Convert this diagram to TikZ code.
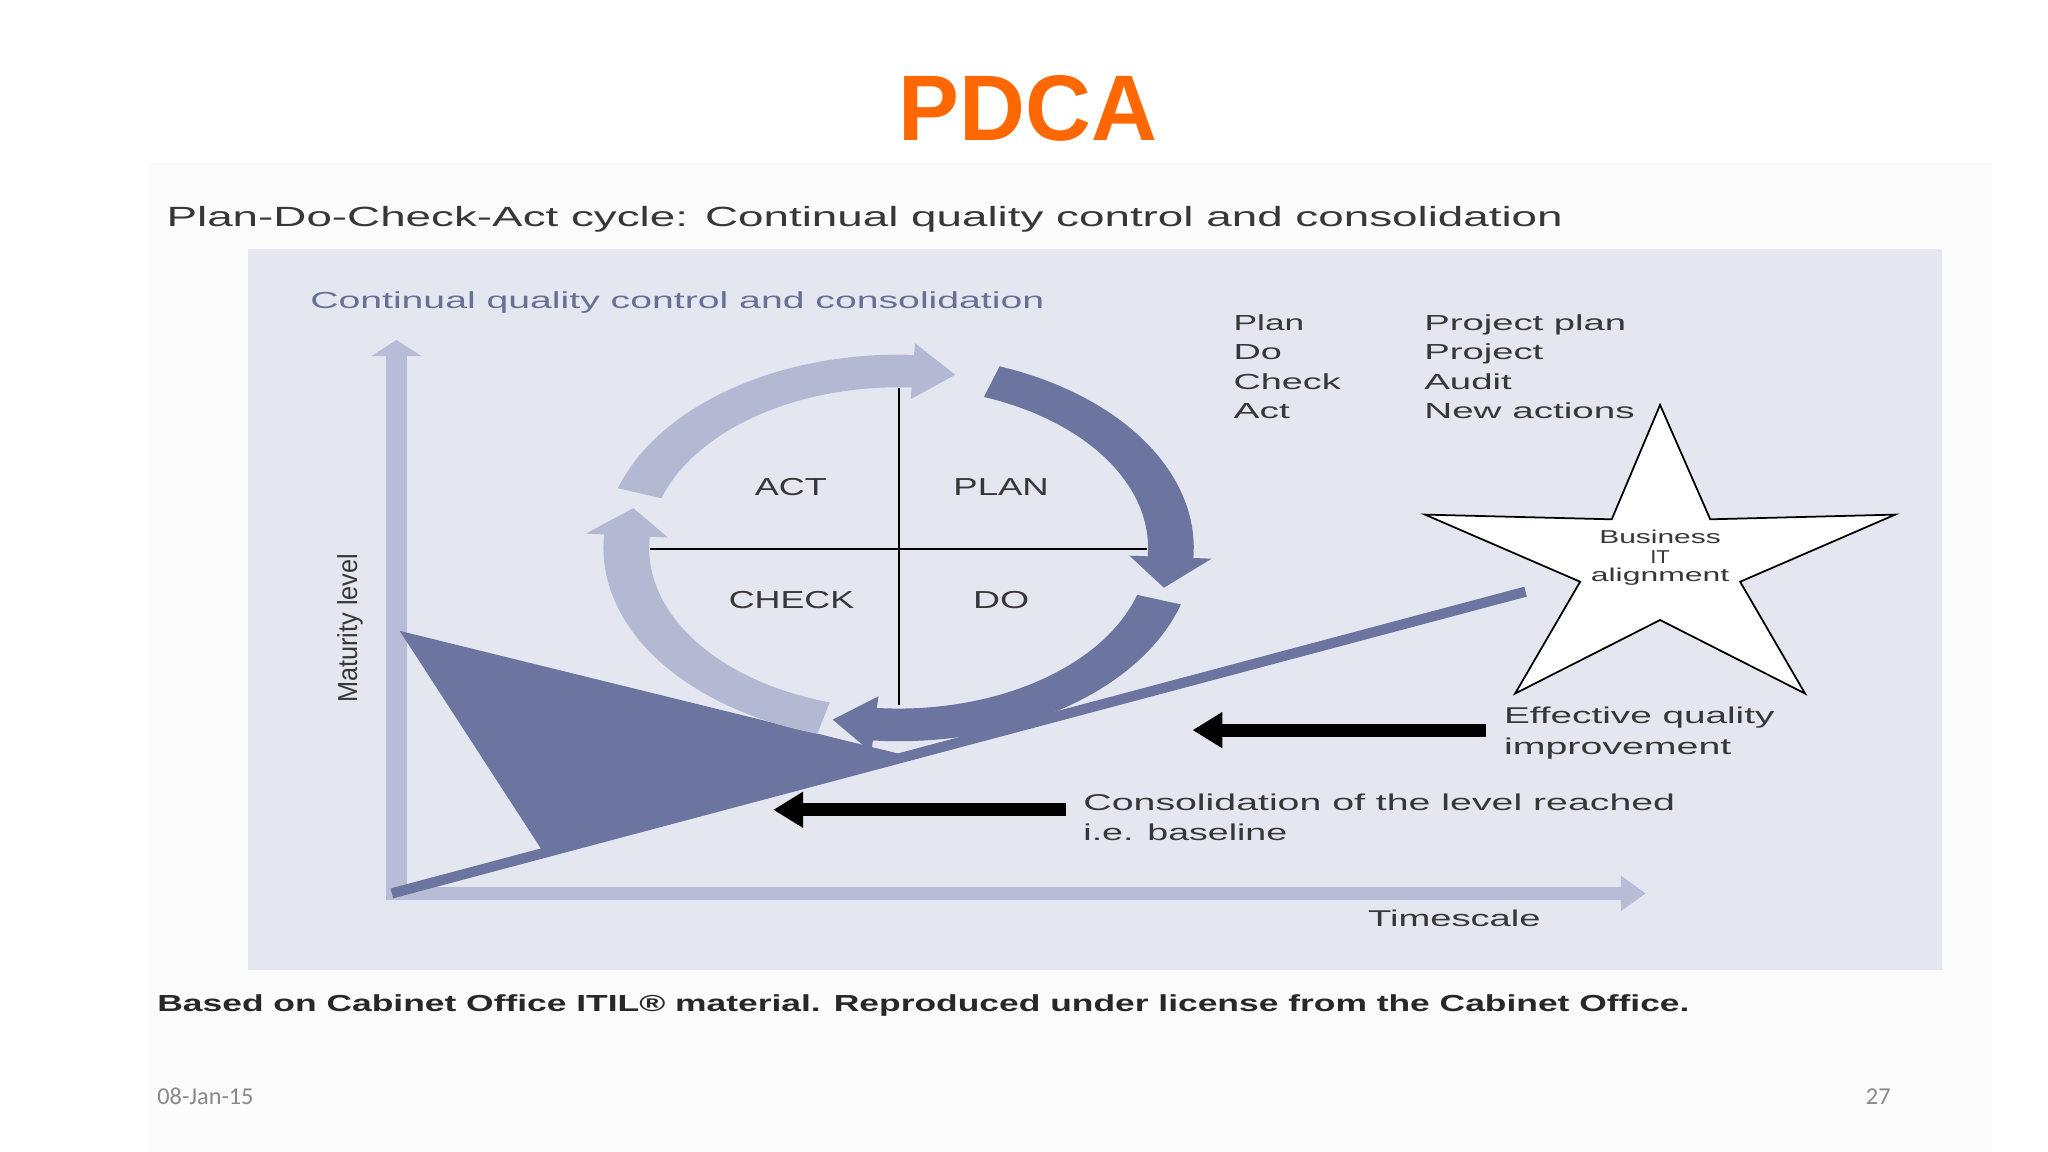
\documentclass[tikz,border=0pt]{standalone}
\usepackage{fontspec}
\usepackage{graphicx}
\setmainfont{Liberation Sans}
\newfontfamily\calib{Carlito}
\usetikzlibrary{arrows.meta}
\newdimen\pu \pu=0.013061cm
\newcommand\tx[3]{\resizebox{#1\pu}{\height}{\fontsize{#2pt}{#2pt}\selectfont #3}}
\definecolor{panel}{RGB}{229,231,240}
\definecolor{slidebg}{RGB}{251,251,252}
\definecolor{lightarr}{RGB}{180,185,211}
\definecolor{axiscol}{RGB}{184,188,214}
\definecolor{darkarr}{RGB}{108,117,160}
\definecolor{headtxt}{RGB}{105,112,150}
\definecolor{txt}{RGB}{55,55,55}
\definecolor{orng}{RGB}{255,104,0}
\definecolor{datecol}{RGB}{137,137,137}
% cycle arrow: colour, tail angle, head-base angle, tip angle
\newcommand\cyc[4]{%
 \fill[#1] plot[domain=#2:#3,samples=40] ({688+226*cos(\x)},{419.5-148*sin(\x)})
   -- ({688+240*cos(#3)},{419.5-157*sin(#3)})
   -- ({688+208.5*cos(#4)},{419.5-135.5*sin(#4)})
   -- ({688+177*cos(#3)},{419.5-114*sin(#3)})
   -- plot[domain=#3:#2,samples=40] ({688+191*cos(\x)},{419.5-123*sin(\x)})
   -- cycle;}
\tikzset{
  lbl/.style={anchor=base west, inner sep=0, text=txt},
  clbl/.style={anchor=base, inner sep=0, text=txt},
  blackarrow/.style={line width=3.7pt, black, -{Triangle[length=8.5pt,width=9.7pt]}},
  crossline/.style={black, line width=0.6pt},
}
\begin{document}
\begin{tikzpicture}[x=0.013061cm, y=-0.013061cm]
\useasboundingbox (0,0) rectangle (1568,882);
\fill[white] (0,0) rectangle (1568,882);
\fill[slidebg] (113,125) rectangle (1525,882);

% title and caption
\node[anchor=base, inner sep=0, text=orng] (title) at (786.8,107.2) {\bfseries\tx{198}{26.5}{PDCA}};
\node[lbl] (sub) at (127,173.6) {\tx{1069}{7.9}{Plan-Do-Check-Act cycle: Continual quality control and consolidation}};

% panel
\fill[panel] (190,191) rectangle (1487,743);
\node[anchor=base west, inner sep=0, text=headtxt] (head) at (237,236) {\tx{562}{6.6}{Continual quality control and consolidation}};

% axes
\coordinate (ybot) at (303.5,689);
\coordinate (ytop) at (303.5,260.3);
\coordinate (xbeg) at (295.5,684);
\coordinate (xend) at (1260,684);
\draw[axiscol, line width=5.95pt, -{Triangle[length=4.6pt,width=14.1pt]}] (ybot) -- (ytop);
\draw[axiscol, line width=3.7pt, -{Triangle[length=7.1pt,width=9.7pt]}] (xbeg) -- (xend);

% baseline and triangle
\coordinate (lbeg) at (300,684);
\coordinate (lend) at (1168,453);
\draw[darkarr, line width=2.9pt] (lbeg) -- (lend);
\fill[darkarr] (306,483) -- (415,651) -- (692,578) -- cycle;

% cross
\draw[crossline] (688,297) -- (688,540);
\draw[crossline] (498,420) -- (878,420);

% cycle arrows
\cyc{lightarr}{162}{87}{78}
\cyc{lightarr}{254}{176}{167}
\cyc{darkarr}{70}{-3}{-13}
\cyc{darkarr}{-17}{-95}{-104}

% quadrant labels
\node[clbl] (act) at (605.5,379) {\tx{55}{7}{ACT}};
\node[clbl] (plan) at (766.5,379) {\tx{73}{7}{PLAN}};
\node[clbl] (check) at (606,466) {\tx{96}{7}{CHECK}};
\node[clbl] (do) at (766.5,466) {\tx{43}{7}{DO}};

% list
\node[lbl] (l1) at (944,253) {\tx{54}{6.2}{Plan}};
\node[lbl] (l2) at (944,275.5) {\tx{37}{6.2}{Do}};
\node[lbl] (l3) at (944,298) {\tx{82}{6.2}{Check}};
\node[lbl] (l4) at (944,320.5) {\tx{43}{6.2}{Act}};
\node[lbl] (r1) at (1090,253) {\tx{154.5}{6.2}{Project plan}};
\node[lbl] (r2) at (1090,275.5) {\tx{91}{6.2}{Project}};
\node[lbl] (r3) at (1090,298) {\tx{67}{6.2}{Audit}};
\node[lbl] (r4) at (1090,320.5) {\tx{161}{6.2}{New actions}};

% star
\filldraw[fill=white, draw=black, line width=0.5pt, line join=miter]
  (1271,310) -- (1309.4,397.6) -- (1451,394) -- (1332.3,445.4) -- (1382,531)
  -- (1271,474.7) -- (1160,531) -- (1209.8,445.4) -- (1091,394) -- (1234,397.6) -- cycle;
\node[clbl] (biz1) at (1271,416) {\tx{93}{5.3}{Business}};
\node[clbl] (biz2) at (1271,431.3) {\tx{15}{5.3}{IT}};
\node[clbl] (biz3) at (1271,445) {\tx{106}{5.3}{alignment}};

% effective quality improvement
\node[lbl] (eq1) at (1151,554) {\tx{207}{6.5}{Effective quality}};
\node[lbl] (eq2) at (1151,577.5) {\tx{174}{6.5}{improvement}};
\coordinate (eqtail) at (1138,559);
\coordinate (eqtip) at (913,559);
\draw[blackarrow] (eqtail) -- (eqtip);

% consolidation
\node[lbl] (co1) at (829,620.5) {\tx{453}{6.5}{Consolidation of the level reached}};
\node[lbl] (co2) at (829,643.5) {\tx{156}{6.5}{i.e. baseline}};
\coordinate (cotail) at (816,620);
\coordinate (cotip) at (592,620);
\draw[blackarrow] (cotail) -- (cotip);

% axis labels
\node[lbl] (time) at (1047,709.5) {\tx{132}{6.5}{Timescale}};
\node[rotate=90, inner sep=0, text=txt] (mat) at (268,481) {\tx{114}{7.8}{Maturity level}};

% footer
\node[lbl, text={rgb,255:red,40;green,40;blue,40}] (foot) at (120,774.7) {\bfseries\tx{1173}{6.6}{Based on Cabinet Office ITIL® material. Reproduced under license from the Cabinet Office.}};
\node[anchor=base west, inner sep=0, text=datecol] (date) at (120,846) {\calib\fontsize{6.9pt}{6.9pt}\selectfont 08-Jan-15};
\node[anchor=base east, inner sep=0, text=datecol] (page) at (1448,846) {\calib\fontsize{6.9pt}{6.9pt}\selectfont 27};
\end{tikzpicture}
\end{document}
